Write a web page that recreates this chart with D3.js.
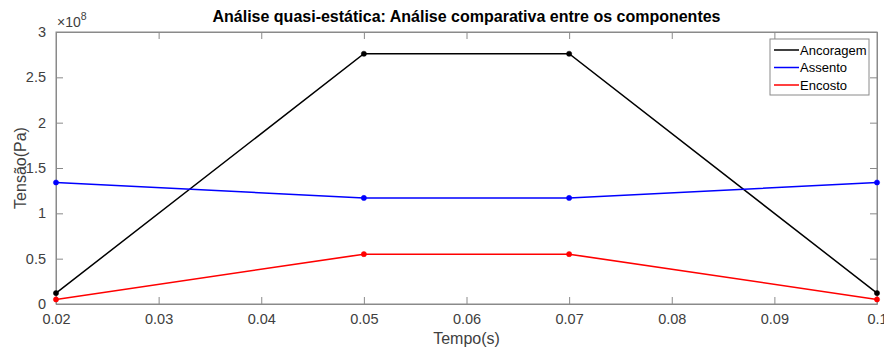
<!DOCTYPE html>
<html><head><meta charset="utf-8">
<script src="https://cdn.jsdelivr.net/npm/d3@7"></script>
<style>body{margin:0;background:#fff}svg{display:block;font-family:"Liberation Sans",Arial,sans-serif}</style>
</head><body><svg id="c" width="884" height="347"></svg>
<script>
const times = [0.02, 0.05, 0.07, 0.1];
const ancoragem = [1.2e7, 2.76e8, 2.76e8, 1.2e7];
const assento = [1.34e8, 1.17e8, 1.17e8, 1.34e8];
const encosto = [0.5e7, 5.5e7, 5.5e7, 0.5e7];
const seriesNames = ["Ancoragem", "Assento", "Encosto"];
const seriesColors = ["#000000", "#0000ff", "#ff0000"];
const xTicks = [0.02, 0.03, 0.04, 0.05, 0.06, 0.07, 0.08, 0.09, 0.1];
const yTicks = [0, 0.5e8, 1e8, 1.5e8, 2e8, 2.5e8, 3e8];

const svg = d3.select("#c");
const L = 56, R = 877, T = 32, B = 304;
const x = d3.scaleLinear().domain([0.02, 0.1]).range([L, R]);
const y = d3.scaleLinear().domain([0, 3e8]).range([B, T]);
const axisColor = "#8a8a8a", textColor = "#404040";

svg.append("rect").attr("x", L).attr("y", T).attr("width", R - L).attr("height", B - T)
  .attr("fill", "none").attr("stroke", axisColor).attr("stroke-width", 1);

const fmtX = d => d === 0.1 ? "0.1" : d3.format(".2f")(d);
const fmtY = d => { const v = d / 1e8; return v === 0 ? "0" : String(v); };

const gx = svg.append("g").attr("transform", `translate(0,${B})`)
  .call(d3.axisBottom(x).tickValues(xTicks).tickFormat(fmtX).tickSizeInner(-7).tickSizeOuter(0).tickPadding(10));
const gxt = svg.append("g").attr("transform", `translate(0,${T})`)
  .call(d3.axisTop(x).tickValues(xTicks).tickFormat("").tickSizeInner(-7).tickSizeOuter(0));
const gy = svg.append("g").attr("transform", `translate(${L},0)`)
  .call(d3.axisLeft(y).tickValues(yTicks).tickFormat(fmtY).tickSizeInner(-7).tickSizeOuter(0).tickPadding(10));
const gyr = svg.append("g").attr("transform", `translate(${R},0)`)
  .call(d3.axisRight(y).tickValues(yTicks).tickFormat("").tickSizeInner(-7).tickSizeOuter(0));
[gx, gxt, gy, gyr].forEach(g => {
  g.select(".domain").attr("stroke", axisColor);
  g.selectAll(".tick line").attr("stroke", axisColor);
  g.selectAll("text").attr("fill", textColor).style("font-size", "14.5px").style("font-family", "Liberation Sans, Arial, sans-serif");
});

const ex = svg.append("text").attr("x", L + 1).attr("y", 27).attr("fill", textColor)
  .style("font-size", "14px");
ex.append("tspan").text("×10");
ex.append("tspan").attr("dy", -7).style("font-size", "10.5px").text("8");

const allSeries = [ancoragem, assento, encosto];
const line = d3.line().x((d, i) => x(times[i])).y(d => y(d));
allSeries.forEach((s, k) => {
  svg.append("path").datum(s).attr("d", line).attr("fill", "none")
    .attr("stroke", seriesColors[k]).attr("stroke-width", 1.5);
  svg.selectAll(null).data(s).enter().append("circle")
    .attr("cx", (d, i) => x(times[i])).attr("cy", d => y(d)).attr("r", 2.6)
    .attr("fill", seriesColors[k]).attr("stroke", seriesColors[k]).attr("stroke-width", 0.5);
});

svg.append("text").attr("x", (L + R) / 2).attr("y", 22).attr("text-anchor", "middle")
  .attr("fill", "#000").style("font-size", "16px").style("font-weight", "bold")
  .text("Análise quasi-estática: Análise comparativa entre os componentes");

svg.append("text").attr("x", (L + R) / 2).attr("y", 344).attr("text-anchor", "middle")
  .attr("fill", textColor).style("font-size", "16px").text("Tempo(s)");
svg.append("text").attr("transform", `translate(26,${(T + B) / 2}) rotate(-90)`)
  .attr("text-anchor", "middle").attr("fill", textColor).style("font-size", "16px").text("Tensão(Pa)");

const lg = svg.append("g");
lg.append("rect").attr("x", 770).attr("y", 39).attr("width", 99).attr("height", 56)
  .attr("fill", "#fff").attr("stroke", axisColor).attr("stroke-width", 1);
seriesNames.forEach((n, k) => {
  const yy = 50 + k * 17.5;
  lg.append("line").attr("x1", 774).attr("x2", 799).attr("y1", yy).attr("y2", yy)
    .attr("stroke", seriesColors[k]).attr("stroke-width", 1.5);
  lg.append("text").attr("x", 800).attr("y", yy + 4.5).attr("fill", "#000")
    .style("font-size", "13px").text(n);
});
</script></body></html>
